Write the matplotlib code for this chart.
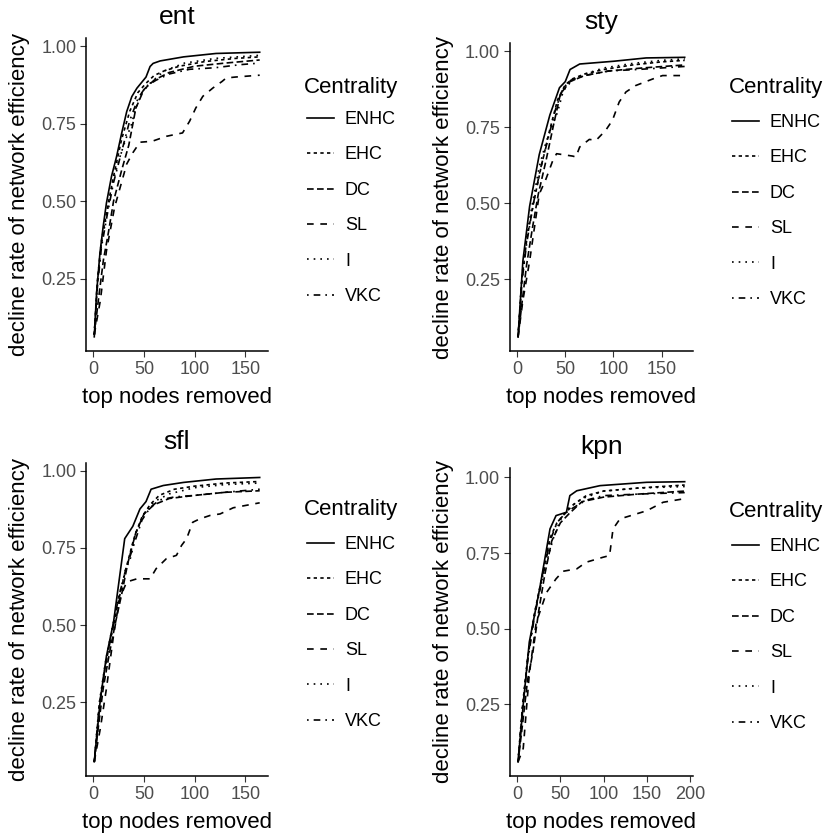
import matplotlib.pyplot as plt

plt.rcParams['font.family'] = ['Liberation Sans', 'DejaVu Sans']

centrality = ['ENHC', 'EHC', 'DC', 'SL', 'I', 'VKC']
styles = ['-', (0, (2, 2)), (0, (4, 2)), (0, (4, 4)), (0, (1, 3)), (0, (1, 3, 4, 3))]

# ent network
ent_x = {
    'ENHC': [1, 3.3, 6.6, 9.8, 13, 18, 23, 28, 33, 38, 43, 52, 56, 59, 66, 89, 121, 164],
    'EHC': [1, 4, 8, 14, 20, 28, 36, 44, 52, 60, 70, 85, 110, 140, 164],
    'DC': [1, 5, 10, 15, 20, 28, 35, 42, 50, 60, 75, 100, 130, 164],
    'SL': [1, 7, 13, 21, 33, 39, 46, 58, 72, 88, 95, 101, 108, 118, 127, 131, 140, 164],
    'I': [1, 4, 8, 14, 20, 26, 32, 37, 42, 48, 56, 70, 90, 120, 164],
    'VKC': [1, 4, 8, 14, 20, 28, 36, 44, 52, 62, 75, 95, 120, 145, 164],
}
ent_y = {
    'ENHC': [0.063, 0.205, 0.333, 0.419, 0.494, 0.58, 0.644, 0.719, 0.789, 0.837, 0.864, 0.90, 0.934, 0.944, 0.952, 0.965, 0.976, 0.98],
    'EHC': [0.07, 0.24, 0.37, 0.48, 0.58, 0.70, 0.79, 0.85, 0.88, 0.905, 0.92, 0.935, 0.95, 0.96, 0.965],
    'DC': [0.07, 0.18, 0.31, 0.40, 0.50, 0.60, 0.68, 0.80, 0.86, 0.89, 0.915, 0.935, 0.945, 0.955],
    'SL': [0.07, 0.18, 0.34, 0.48, 0.62, 0.656, 0.69, 0.693, 0.709, 0.72, 0.758, 0.80, 0.838, 0.865, 0.886, 0.897, 0.90, 0.906],
    'I': [0.07, 0.23, 0.36, 0.47, 0.57, 0.64, 0.70, 0.74, 0.80, 0.85, 0.88, 0.92, 0.945, 0.96, 0.97],
    'VKC': [0.07, 0.22, 0.35, 0.46, 0.56, 0.66, 0.76, 0.83, 0.87, 0.89, 0.91, 0.925, 0.93, 0.94, 0.945],
}

# sty network
sty_x = {
    'ENHC': [1, 6, 13, 23, 34, 44, 50, 55, 65, 100, 134, 174],
    'EHC': [1, 5, 10, 17, 25, 33, 42, 50, 58, 70, 90, 120, 150, 174],
    'DC': [1, 5, 10, 16, 22, 30, 38, 45, 55, 70, 95, 130, 174],
    'SL': [1, 6, 13, 23, 30, 37, 41, 58, 61, 65, 75, 82, 92, 99, 106, 113, 123, 141, 151, 174],
    'I': [1, 5, 10, 16, 23, 30, 36, 42, 48, 56, 70, 90, 120, 150, 174],
    'VKC': [1, 5, 10, 17, 24, 32, 40, 48, 56, 70, 95, 125, 150, 174],
}
sty_y = {
    'ENHC': [0.06, 0.31, 0.49, 0.66, 0.79, 0.88, 0.90, 0.94, 0.958, 0.967, 0.978, 0.98],
    'EHC': [0.06, 0.25, 0.38, 0.50, 0.62, 0.73, 0.84, 0.89, 0.91, 0.925, 0.94, 0.955, 0.965, 0.97],
    'DC': [0.06, 0.17, 0.30, 0.42, 0.53, 0.64, 0.76, 0.86, 0.90, 0.92, 0.935, 0.945, 0.955],
    'SL': [0.06, 0.18, 0.31, 0.53, 0.58, 0.64, 0.663, 0.655, 0.652, 0.685, 0.71, 0.707, 0.74, 0.773, 0.833, 0.866, 0.887, 0.909, 0.92, 0.92],
    'I': [0.06, 0.26, 0.39, 0.50, 0.62, 0.70, 0.75, 0.80, 0.87, 0.90, 0.925, 0.945, 0.96, 0.97, 0.975],
    'VKC': [0.06, 0.24, 0.37, 0.50, 0.61, 0.71, 0.81, 0.88, 0.905, 0.92, 0.935, 0.94, 0.945, 0.95],
}

# sfl network
sfl_x = {
    'ENHC': [1, 7, 13, 20, 31, 39, 46, 52, 57, 69, 89, 121, 164],
    'EHC': [1, 6, 12, 18, 25, 32, 40, 48, 56, 65, 80, 100, 130, 164],
    'DC': [1, 5, 10, 16, 22, 28, 34, 42, 50, 60, 75, 100, 130, 164],
    'SL': [1, 7, 13, 20, 26, 33, 43, 56, 62, 72, 82, 87, 92, 98, 105, 115, 125, 138, 164],
    'I': [1, 6, 12, 18, 25, 32, 37, 42, 50, 60, 75, 100, 130, 164],
    'VKC': [1, 6, 12, 18, 25, 32, 40, 48, 56, 65, 80, 100, 130, 164],
}
sfl_y = {
    'ENHC': [0.058, 0.26, 0.40, 0.51, 0.78, 0.82, 0.876, 0.90, 0.94, 0.952, 0.962, 0.973, 0.978],
    'EHC': [0.058, 0.24, 0.37, 0.47, 0.58, 0.68, 0.78, 0.85, 0.89, 0.92, 0.94, 0.95, 0.96, 0.965],
    'DC': [0.058, 0.17, 0.30, 0.41, 0.51, 0.60, 0.70, 0.80, 0.86, 0.89, 0.91, 0.92, 0.93, 0.935],
    'SL': [0.058, 0.166, 0.295, 0.467, 0.586, 0.64, 0.65, 0.65, 0.683, 0.715, 0.726, 0.758, 0.78, 0.833, 0.844, 0.855, 0.86, 0.88, 0.896],
    'I': [0.058, 0.25, 0.38, 0.48, 0.59, 0.68, 0.72, 0.80, 0.86, 0.90, 0.925, 0.945, 0.955, 0.96],
    'VKC': [0.058, 0.24, 0.37, 0.47, 0.59, 0.68, 0.76, 0.84, 0.88, 0.905, 0.915, 0.92, 0.93, 0.94],
}

# kpn network
kpn_x = {
    'ENHC': [1, 7, 14, 26, 38, 45, 57, 61, 69, 96, 150, 194],
    'EHC': [1, 6, 12, 20, 30, 38, 46, 55, 65, 80, 100, 140, 194],
    'DC': [1, 6, 12, 18, 25, 32, 40, 50, 60, 75, 100, 140, 194],
    'SL': [1, 7, 14, 22, 34, 45, 53, 69, 80, 99, 107, 111, 119, 150, 169, 194],
    'I': [1, 6, 12, 20, 30, 36, 42, 50, 60, 75, 100, 140, 194],
    'VKC': [1, 6, 12, 20, 30, 38, 46, 55, 65, 80, 100, 140, 194],
}
kpn_y = {
    'ENHC': [0.06, 0.25, 0.456, 0.632, 0.83, 0.874, 0.885, 0.94, 0.956, 0.973, 0.984, 0.986],
    'EHC': [0.06, 0.24, 0.40, 0.55, 0.69, 0.80, 0.85, 0.88, 0.91, 0.94, 0.955, 0.965, 0.975],
    'DC': [0.06, 0.18, 0.33, 0.42, 0.56, 0.68, 0.79, 0.85, 0.88, 0.92, 0.935, 0.945, 0.955],
    'SL': [0.06, 0.105, 0.35, 0.52, 0.62, 0.665, 0.69, 0.698, 0.72, 0.736, 0.742, 0.83, 0.863, 0.89, 0.918, 0.93],
    'I': [0.06, 0.24, 0.40, 0.55, 0.68, 0.74, 0.80, 0.86, 0.90, 0.93, 0.955, 0.965, 0.97],
    'VKC': [0.06, 0.23, 0.39, 0.54, 0.68, 0.79, 0.85, 0.88, 0.90, 0.925, 0.94, 0.945, 0.95],
}

W, H = 826, 835
# name, data, axes rect, x ticks, legend title (x, y) px, legend first-row top px
panels = [
    ('ent', ent_x, ent_y, [0.1041, 0.5796, 0.2203, 0.3749], [0, 50, 100, 150], (304, 87), 111),
    ('sty', sty_x, sty_y, [0.6171, 0.5796, 0.2219, 0.3685], [0, 50, 100, 150], (729, 88), 114),
    ('sfl', sfl_x, sfl_y, [0.1041, 0.0707, 0.2203, 0.3745], [0, 50, 100, 150], (304, 510), 536),
    ('kpn', kpn_x, kpn_y, [0.6171, 0.0707, 0.2219, 0.3692], [0, 50, 100, 150, 200], (729, 512), 538),
]

fig = plt.figure(figsize=(W / 100, H / 100), dpi=100)

for name, xs, ys, rect, xticks, (tx, ty), ltop in panels:
    ax = fig.add_axes(rect)
    for c, ls in zip(centrality, styles):
        ax.plot(xs[c], ys[c], color='black', linestyle=ls, linewidth=1.2, label=c)
    ax.margins(x=0.05, y=0.05)
    ax.set_xticks(xticks)
    ax.set_yticks([0.25, 0.50, 0.75, 1.00])
    ax.set_yticklabels(['0.25', '0.50', '0.75', '1.00'])
    ax.tick_params(length=4, width=0.8, color='#333333', labelcolor='#4d4d4d',
                   labelsize=13, pad=3)
    for s in ['top', 'right']:
        ax.spines[s].set_visible(False)
    for s in ['left', 'bottom']:
        ax.spines[s].set_linewidth(1.1)
    ax.set_title(name, fontsize=19, pad=10)
    ax.set_xlabel('top nodes removed', fontsize=16, labelpad=7)
    ax.set_ylabel('decline rate of network efficiency', fontsize=16, labelpad=8)

    fig.text(tx / W, 1 - ty / H, 'Centrality', fontsize=16, ha='left', va='center')
    ax.legend(loc='upper left', bbox_to_anchor=((tx + 3) / W, 1 - ltop / H),
              bbox_transform=fig.transFigure, frameon=False, fontsize=13,
              handlelength=1.5, handletextpad=0.6, labelspacing=1.02,
              borderpad=0, borderaxespad=0)

plt.savefig('out.png', dpi=100)
